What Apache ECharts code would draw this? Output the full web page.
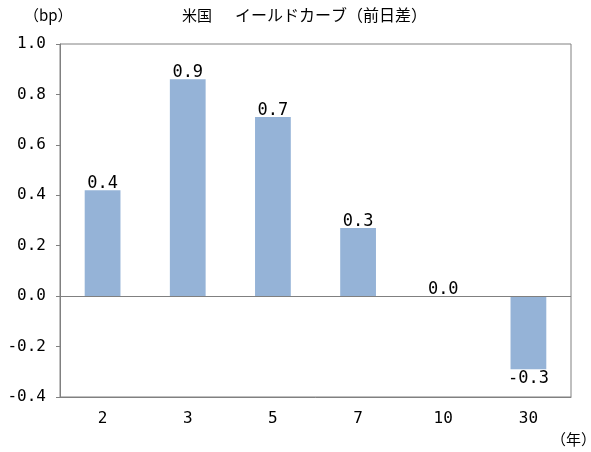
<!DOCTYPE html>
<html>
<head>
    <meta charset="utf-8">
    <title>米国 イールドカーブ</title>
    <script src="https://cdn.jsdelivr.net/npm/echarts@6/dist/echarts.min.js"></script>
</head>
<body style="margin:0">
<div id="main" style="width: 591px; height: 452px;"></div>
<script type="text/javascript">
// 年限と前日差(bp)
var tenors = ['2', '3', '5', '7', '10', '30'];
var changes = [0.42, 0.86, 0.71, 0.27, 0.0, -0.29];
var yTicks = [-0.4, 1.0, 0.2];   // min, max, interval

var font = '"Noto Sans CJK JP", "Noto Sans", sans-serif';
var numFont = '"DejaVu Sans Mono", monospace';
var myChart = echarts.init(document.getElementById('main'));

var barData = changes.map(function (v) {
    return {
        value: v,
        label: v < 0 ? { position: 'bottom', offset: [0, 1] } : { position: 'top', offset: [0, 2] }
    };
});

var option = {
    animation: false,
    graphic: [
        { type: 'text', left: 24, top: 8,
          style: { text: '（bp）', font: '15px ' + font, fill: '#000' } },
        { type: 'text', left: 182, top: 8,
          style: { text: '米国', font: '15px ' + font, fill: '#000' } },
        { type: 'text', left: 235, top: 7,
          style: { text: 'イールドカーブ（前日差）', font: '16px ' + font, fill: '#000' } },
        { type: 'text', left: 551, top: 432,
          style: { text: '（年）', font: '15px ' + font, fill: '#000' } }
    ],
    grid: {
        left: 60, top: 44, right: 20, bottom: 55,
        show: true, borderColor: '#808080', borderWidth: 1
    },
    xAxis: {
        type: 'category',
        data: tenors,
        axisLine: { onZero: false, lineStyle: { color: '#808080' } },
        axisTick: { show: false },
        axisLabel: { margin: 14, color: '#000', fontSize: 16, fontFamily: numFont }
    },
    yAxis: {
        type: 'value',
        min: yTicks[0],
        max: yTicks[1],
        interval: yTicks[2],
        axisLine: { show: true, lineStyle: { color: '#808080' } },
        axisTick: { show: true, inside: false, length: 4, lineStyle: { color: '#808080' } },
        splitLine: { show: false },
        axisLabel: {
            margin: 14, color: '#000', fontSize: 16, fontFamily: numFont,
            formatter: function (v) { return v.toFixed(1); }
        }
    },
    series: [{
        type: 'bar',
        data: barData,
        barWidth: '42%',
        itemStyle: { color: '#95B3D7' },
        label: {
            show: true,
            distance: 0,
            color: '#000',
            fontSize: 17,
            fontFamily: numFont,
            formatter: function (p) { return p.value.toFixed(1); }
        },
        markLine: {
            silent: true,
            symbol: 'none',
            label: { show: false },
            lineStyle: { color: '#808080', type: 'solid', width: 1 },
            data: [{ yAxis: 0 }]
        }
    }]
};
myChart.setOption(option);
</script>
</body>
</html>
